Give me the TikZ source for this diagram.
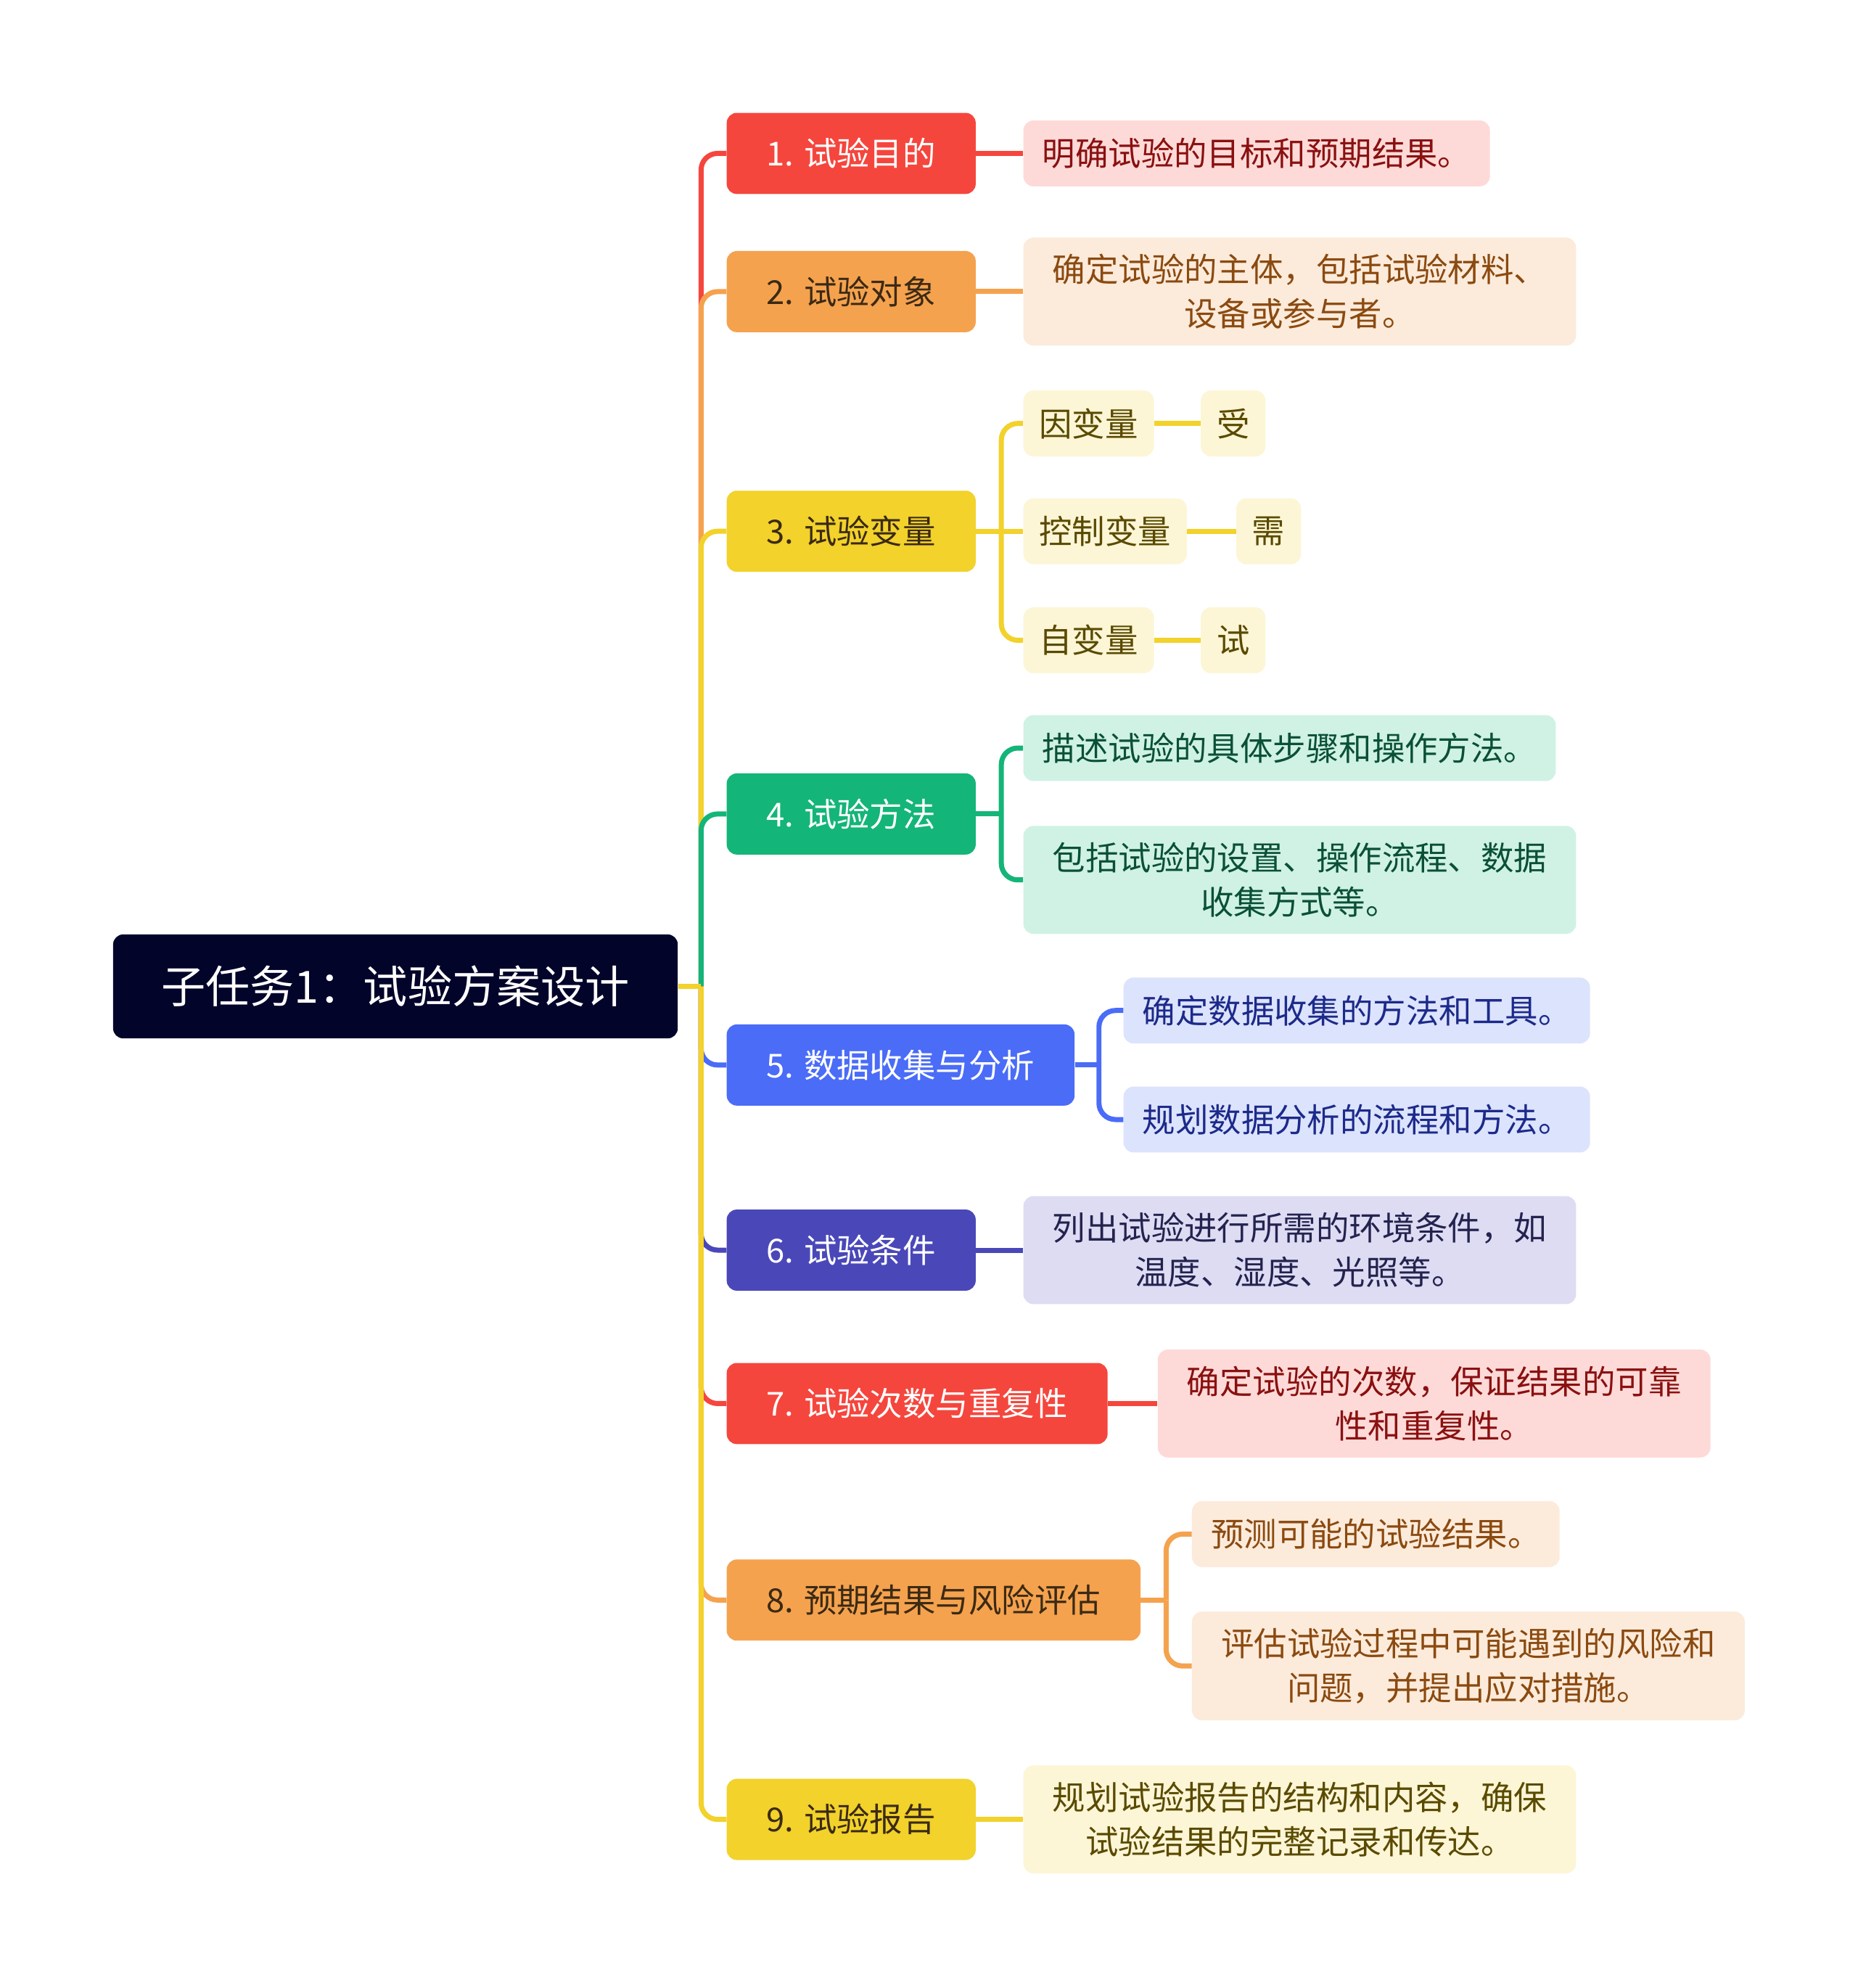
\documentclass[tikz,border=0pt]{standalone}
\usepackage{fontspec}
\setmainfont{Noto Sans CJK SC}
\usepackage{xcolor}
\usetikzlibrary{positioning}

\definecolor{rootc}{HTML}{02042A}
\definecolor{redc}{HTML}{F5463D}
\definecolor{orac}{HTML}{F5A24E}
\definecolor{yelc}{HTML}{F2D22B}
\definecolor{grnc}{HTML}{14B578}
\definecolor{bluc}{HTML}{4A6CF7}
\definecolor{indc}{HTML}{4A48B8}
\definecolor{redl}{HTML}{FDDAD8}
\definecolor{oral}{HTML}{FCEBDB}
\definecolor{yell}{HTML}{FCF6D6}
\definecolor{grnl}{HTML}{CFF2E4}
\definecolor{blul}{HTML}{DCE3FD}
\definecolor{indl}{HTML}{DDDCF3}
\definecolor{redt}{HTML}{8A1010}
\definecolor{orat}{HTML}{8B4A10}
\definecolor{yelt}{HTML}{5A4A00}
\definecolor{grnt}{HTML}{0A5036}
\definecolor{blut}{HTML}{1C2A8A}
\definecolor{indt}{HTML}{24234F}
\definecolor{darkt}{HTML}{3B2A14}

\begin{document}
\begin{tikzpicture}[x=1pt, y=-1pt,
					root/.style={fill=rootc, text=white, rounded corners=8pt, anchor=west, inner xsep=38pt, minimum height=82pt, font=\fontsize{35}{42}\selectfont},
					topic/.style={fill=#1, rounded corners=8pt, anchor=west, inner xsep=31.5pt, minimum height=64pt, font=\fontsize{26}{35}\selectfont},
					leaf/.style={fill=#1, rounded corners=8pt, anchor=west, align=center, inner xsep=15pt, inner ysep=13pt, minimum height=52pt, font=\fontsize{26}{35}\selectfont},
					small/.style={inner xsep=12.5pt},
					wide/.style={minimum width=436pt},
					link/.style={draw=#1, line width=4pt, rounded corners=13pt}]
    \path[use as bounding box, fill=white] (0,0) rectangle (1465,1568);
    % Place nodes
    \node [root] (R) at (89,778) {子任务1：试验方案设计};
    \coordinate (hub) at (553,778);

    \node [topic=redc, text=white] (T1) at (573,121) {1. 试验目的};
    \node [topic=orac, text=darkt] (T2) at (573,230) {2. 试验对象};
    \node [topic=yelc, text=darkt] (T3) at (573,419) {3. 试验变量};
    \node [topic=grnc, text=white] (T4) at (573,642) {4. 试验方法};
    \node [topic=bluc, text=white] (T5) at (573,840) {5. 数据收集与分析};
    \node [topic=indc, text=white] (T6) at (573,986) {6. 试验条件};
    \node [topic=redc, text=white] (T7) at (573,1107) {7. 试验次数与重复性};
    \node [topic=orac, text=darkt] (T8) at (573,1262) {8. 预期结果与风险评估};
    \node [topic=yelc, text=darkt] (T9) at (573,1435) {9. 试验报告};

    \node [leaf=redl, text=redt] (goal) at (807,121) {明确试验的目标和预期结果。};
    \node [leaf=oral, text=orat, wide] (object) at (807,230) {确定试验的主体，包括试验材料、\\设备或参与者。};
    \node [leaf=yell, text=yelt, small] (dep) at (807,334) {因变量};
    \node [leaf=yell, text=yelt, small] (ctrl) at (807,419) {控制变量};
    \node [leaf=yell, text=yelt, small] (indep) at (807,505) {自变量};
    \node [leaf=yell, text=yelt, small] (depx) at (947,334) {受};
    \node [leaf=yell, text=yelt, small] (ctrlx) at (975,419) {需};
    \node [leaf=yell, text=yelt, small] (indepx) at (947,505) {试};
    \node [leaf=grnl, text=grnt] (meth1) at (807,590) {描述试验的具体步骤和操作方法。};
    \node [leaf=grnl, text=grnt, wide] (meth2) at (807,694) {包括试验的设置、操作流程、数据\\收集方式等。};
    \node [leaf=blul, text=blut] (data1) at (886,797) {确定数据收集的方法和工具。};
    \node [leaf=blul, text=blut] (data2) at (886,883) {规划数据分析的流程和方法。};
    \node [leaf=indl, text=indt, wide] (cond) at (807,986) {列出试验进行所需的环境条件，如\\温度、湿度、光照等。};
    \node [leaf=redl, text=redt, wide] (rep) at (913,1107) {确定试验的次数，保证结果的可靠\\性和重复性。};
    \node [leaf=oral, text=orat] (risk1) at (940,1210) {预测可能的试验结果。};
    \node [leaf=oral, text=orat, wide] (risk2) at (940,1314) {评估试验过程中可能遇到的风险和\\问题，并提出应对措施。};
    \node [leaf=yell, text=yelt, wide] (report) at (807,1435) {规划试验报告的结构和内容，确保\\试验结果的完整记录和传达。};

    % Draw edges
    \draw[link=redc] (hub) |- (T1.west);
    \draw[link=orac] (hub) |- (T2.west);
    \draw[link=yelc] (hub) |- (T3.west);
    \draw[link=grnc] (hub) |- (T4.west);
    \draw[link=bluc] (hub) |- (T5.west);
    \draw[link=indc] (hub) |- (T6.west);
    \draw[link=redc] (hub) |- (T7.west);
    \draw[link=orac] (hub) |- (T8.west);
    \draw[link=yelc] (hub) |- (T9.west);
    \draw[link=yelc] (R.east) -- (hub);

    \draw[link=redc] (T1) edge (goal);
    \draw[link=orac] (T2) edge (object);

    \draw[link=yelc] (T3.east) -- ++(20,0) coordinate (j3);
    \draw[link=yelc] (j3) |- (dep.west);
    \draw[link=yelc] (j3) -- (ctrl.west);
    \draw[link=yelc] (j3) |- (indep.west);
    \draw[link=yelc] (dep) edge (depx);
    \draw[link=yelc] (ctrl) edge (ctrlx);
    \draw[link=yelc] (indep) edge (indepx);

    \draw[link=grnc] (T4.east) -- ++(20,0) coordinate (j4);
    \draw[link=grnc] (j4) |- (meth1.west);
    \draw[link=grnc] (j4) |- (meth2.west);

    \draw[link=bluc] (T5.east) -- ++(19,0) coordinate (j5);
    \draw[link=bluc] (j5) |- (data1.west);
    \draw[link=bluc] (j5) |- (data2.west);

    \draw[link=indc] (T6) edge (cond);
    \draw[link=redc] (T7) edge (rep);

    \draw[link=orac] (T8.east) -- ++(20,0) coordinate (j8);
    \draw[link=orac] (j8) |- (risk1.west);
    \draw[link=orac] (j8) |- (risk2.west);

    \draw[link=yelc] (T9) edge (report);
\end{tikzpicture}
\end{document}
